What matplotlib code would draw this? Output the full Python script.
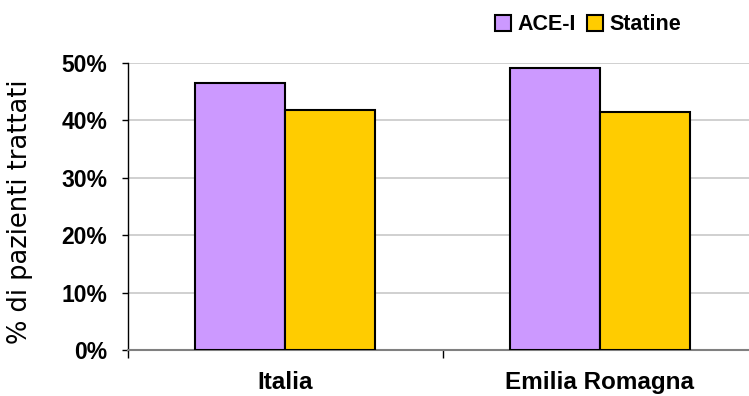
import matplotlib
matplotlib.use("Agg")
import matplotlib.pyplot as plt
import matplotlib.transforms as mtransforms
import numpy as np
from matplotlib.patches import Patch

categories = ["Italia", "Emilia Romagna"]
series_names = ["ACE-I", "Statine"]
ace_i = [46.6, 49.2]
statine = [41.8, 41.5]
yticks = [0, 10, 20, 30, 40, 50]
ytick_labels = ["0%", "10%", "20%", "30%", "40%", "50%"]
colors = ["#CC99FF", "#FFCC00"]

plt.rcParams['font.family'] = ['Liberation Sans', 'DejaVu Sans']

fig = plt.figure(figsize=(7.49, 3.96), dpi=100)
W, H = 749, 396
left_px, right_px, top_px, bot_px = 128, 757, 63, 350
ax = fig.add_axes([left_px / W, 1 - bot_px / H, (right_px - left_px) / W, (bot_px - top_px) / H])

x = np.arange(len(categories))
bw = 0.286
ax.bar(x - bw / 2, ace_i, bw, color=colors[0], edgecolor="black", linewidth=1.5, zorder=3)
ax.bar(x + bw / 2, statine, bw, color=colors[1], edgecolor="black", linewidth=1.5, zorder=3)

ax.set_xlim(-0.5, 1.5)
ax.set_ylim(0, 50)
ax.set_yticks(yticks)
ax.set_yticklabels(ytick_labels, fontsize=16.5, fontweight="bold")
ax.yaxis.grid(True, color="#c8c8c8", linewidth=1.2, zorder=0)
ax.set_axisbelow(True)

ax.set_xticks([-0.5, 0.5, 1.5])
ax.set_xticklabels([])
ax.tick_params(axis="x", which="major", length=6, width=1, color="black", direction="out")
ax.tick_params(axis="y", length=4, width=1, color="black", direction="out", pad=11)

# category labels (near the bottom edge, kept fully visible)
trans = mtransforms.blended_transform_factory(ax.transData, fig.transFigure)
for xi, cat in zip(x, categories):
    ax.text(xi, 1 - 389 / H, cat, transform=trans, ha="center", va="baseline",
            fontsize=17.5, fontweight="bold", clip_on=False)

ax.spines["top"].set_visible(False)
ax.spines["right"].set_visible(False)
ax.spines["left"].set_color("black")
ax.spines["left"].set_linewidth(1)
ax.spines["bottom"].set_color("#808080")
ax.spines["bottom"].set_linewidth(1.5)

fig.text(20 / W, 1 - 211.5 / H, "% di pazienti trattati", rotation=90, ha="center", va="center",
         fontsize=18.5, family="DejaVu Sans")

handles = [Patch(facecolor=c, edgecolor="black", linewidth=1.5) for c in colors]
fig.legend(handles, series_names, loc="center", bbox_to_anchor=(588 / W, 1 - 25 / H),
           ncol=2, frameon=False, prop={"size": 15.5, "weight": "bold"},
           handlelength=0.75, handleheight=0.75, handletextpad=0.3, columnspacing=0.5,
           borderpad=0)

fig.savefig("out.png", dpi=100)
